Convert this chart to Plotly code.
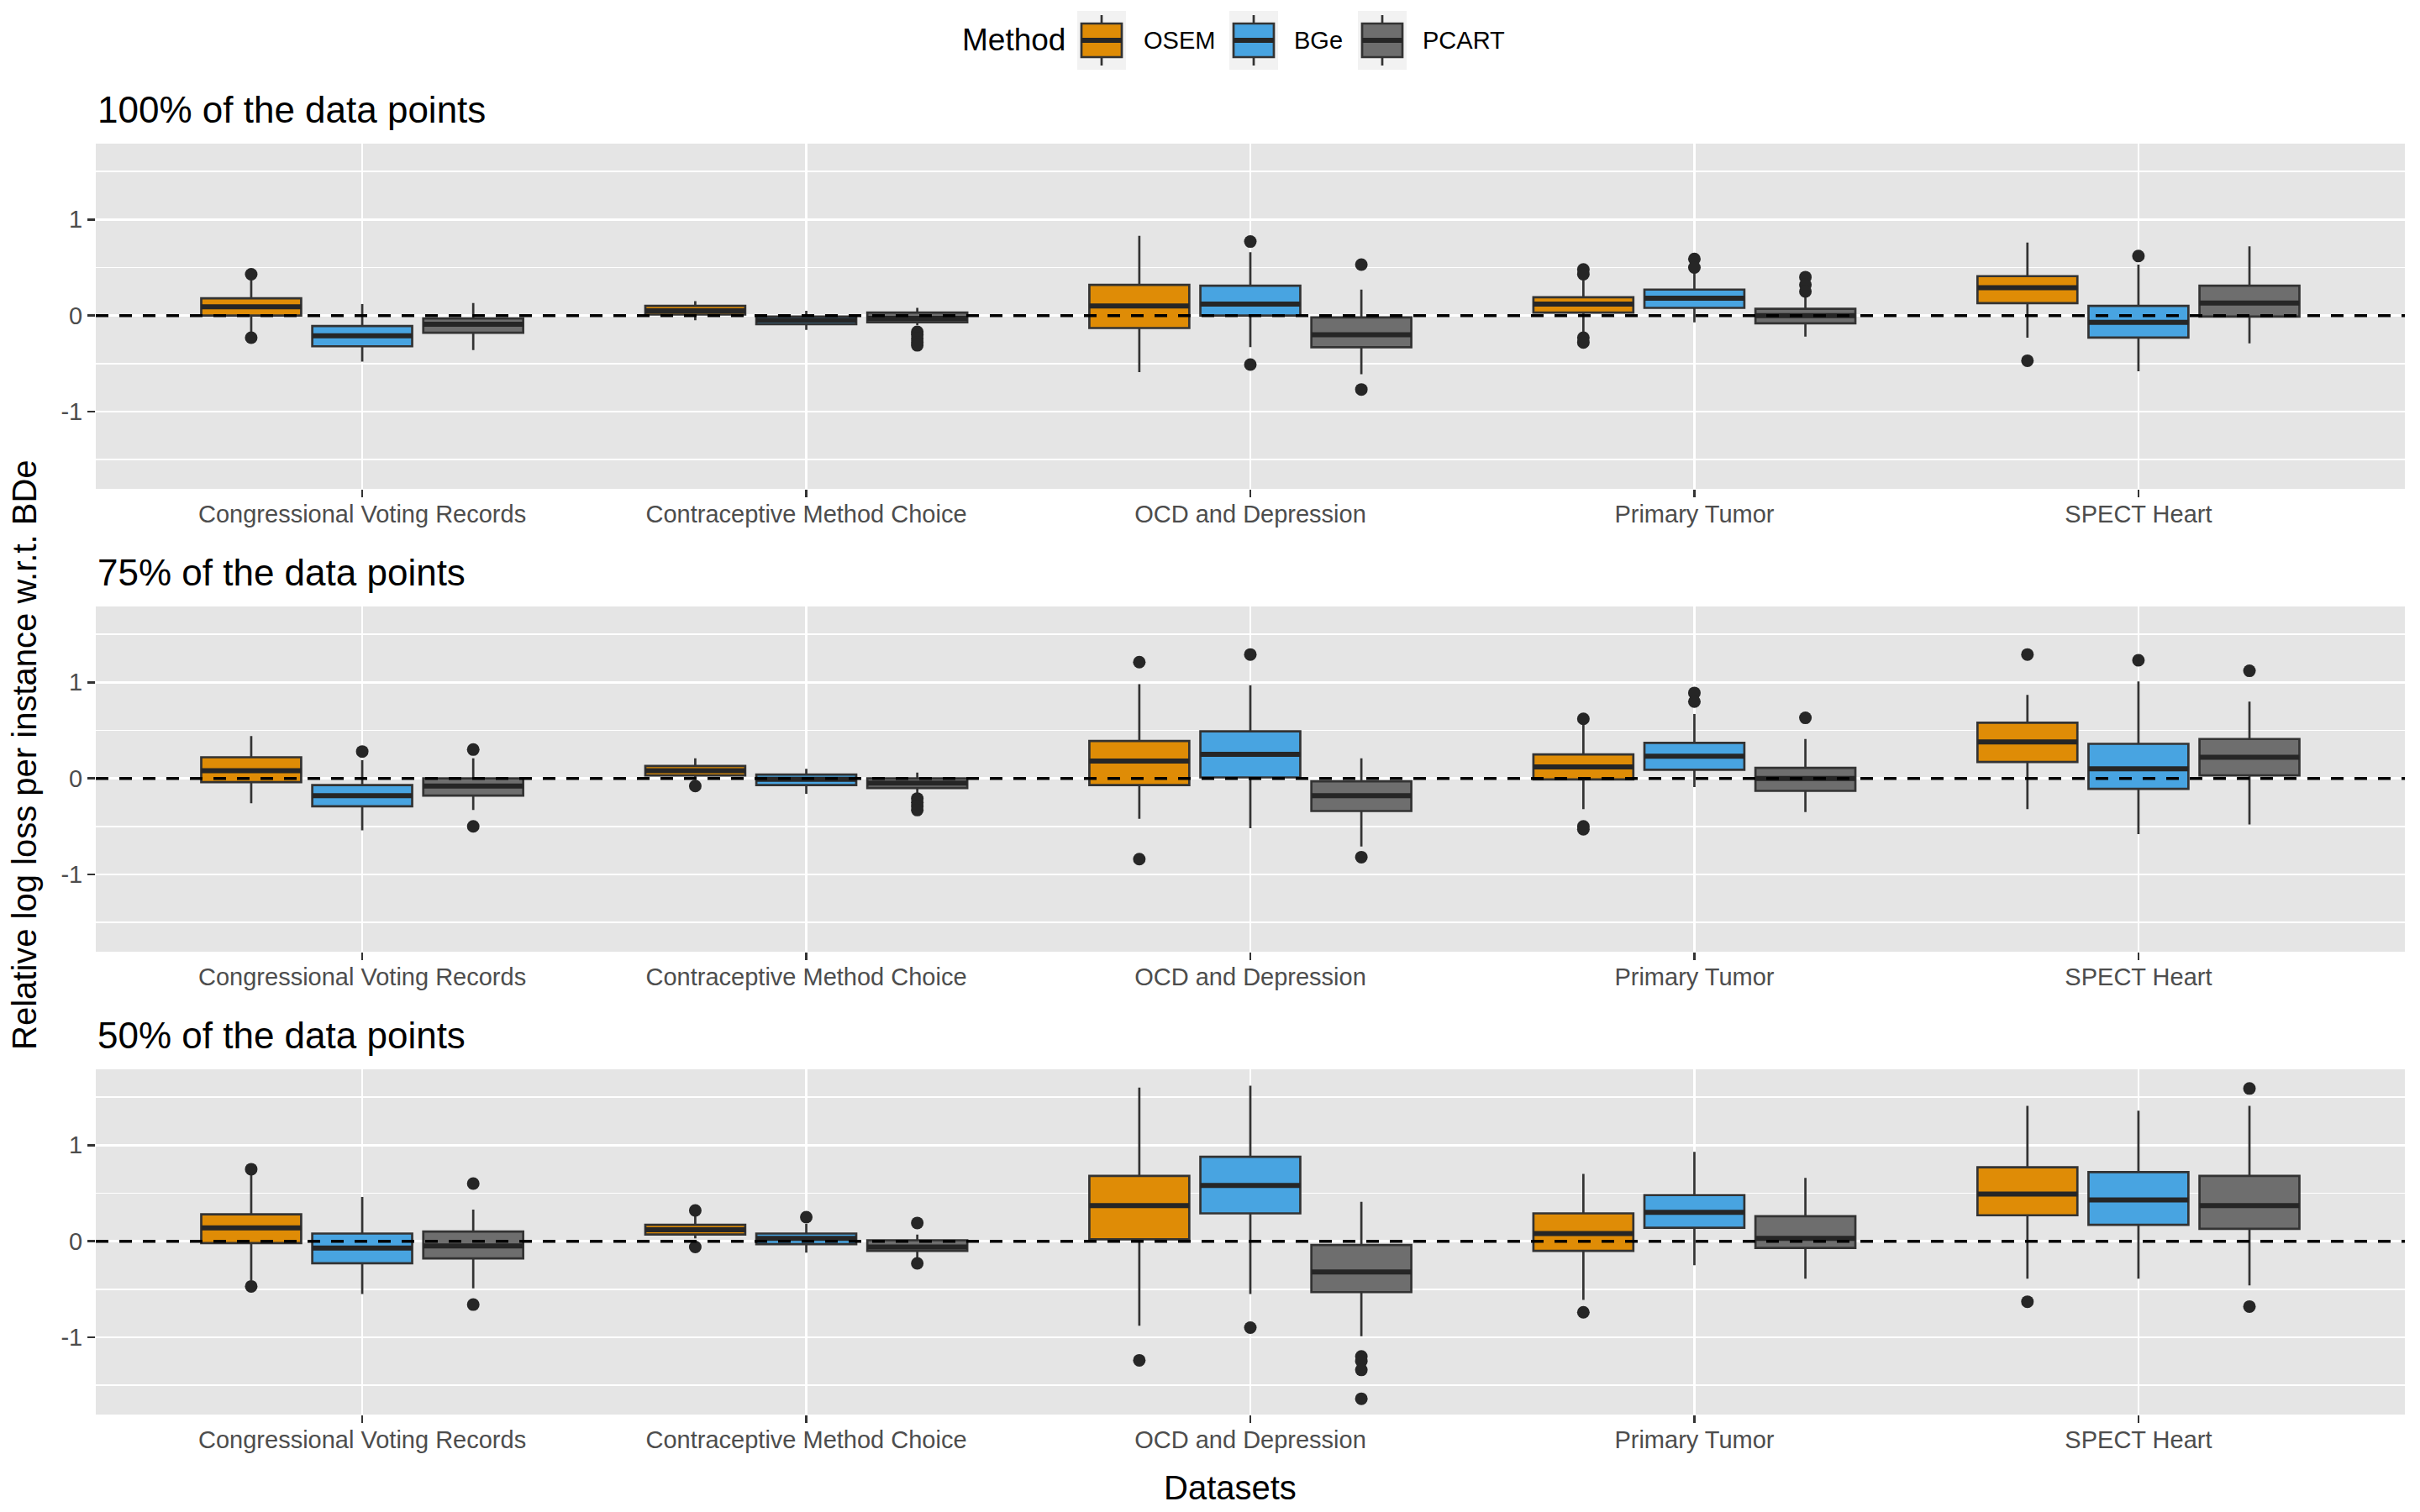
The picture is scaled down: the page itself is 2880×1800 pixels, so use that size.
import plotly.graph_objects as go

# ---------------- data ----------------
datasets = ["Congressional Voting Records", "Contraceptive Method Choice",
            "OCD and Depression", "Primary Tumor", "SPECT Heart"]
methods = ["OSEM", "BGe", "PCART"]
panel_titles = ["100% of the data points", "75% of the data points", "50% of the data points"]
colors = {"OSEM": "#DF8C06", "BGe": "#48A4E1", "PCART": "#6E6E6E"}

# ---- 100% of the data points ----
q1_100 = {"OSEM": [0.00, 0.01, -0.13, 0.03, 0.13],
          "BGe": [-0.32, -0.09, 0.00, 0.08, -0.23],
          "PCART": [-0.18, -0.07, -0.33, -0.08, -0.01]}
med_100 = {"OSEM": [0.09, 0.05, 0.10, 0.12, 0.29],
           "BGe": [-0.21, -0.05, 0.12, 0.18, -0.07],
           "PCART": [-0.09, -0.03, -0.20, 0.00, 0.13]}
q3_100 = {"OSEM": [0.18, 0.10, 0.32, 0.19, 0.41],
          "BGe": [-0.11, -0.01, 0.31, 0.27, 0.10],
          "PCART": [-0.03, 0.03, -0.02, 0.07, 0.31]}
lo_100 = {"OSEM": [-0.17, -0.05, -0.59, -0.17, -0.23],
          "BGe": [-0.48, -0.15, -0.33, -0.07, -0.58],
          "PCART": [-0.36, -0.10, -0.61, -0.22, -0.29]}
hi_100 = {"OSEM": [0.37, 0.15, 0.83, 0.37, 0.76],
          "BGe": [0.12, 0.05, 0.66, 0.45, 0.53],
          "PCART": [0.13, 0.08, 0.27, 0.20, 0.72]}
out_100 = {"OSEM": [[0.43, -0.23], [], [], [0.48, 0.43, -0.23, -0.28], [-0.47]],
           "BGe": [[], [], [0.77, -0.51], [0.59, 0.50], [0.62]],
           "PCART": [[], [-0.17, -0.20, -0.24, -0.28, -0.31], [0.53, -0.77], [0.40, 0.32, 0.25], []]}

# ---- 75% of the data points ----
q1_75 = {"OSEM": [-0.04, 0.03, -0.07, -0.01, 0.17],
         "BGe": [-0.29, -0.07, 0.01, 0.09, -0.11],
         "PCART": [-0.18, -0.10, -0.34, -0.13, 0.03]}
med_75 = {"OSEM": [0.08, 0.08, 0.18, 0.12, 0.38],
          "BGe": [-0.18, -0.01, 0.25, 0.23, 0.10],
          "PCART": [-0.08, -0.05, -0.18, 0.00, 0.22]}
q3_75 = {"OSEM": [0.22, 0.13, 0.39, 0.25, 0.58],
         "BGe": [-0.07, 0.04, 0.49, 0.37, 0.36],
         "PCART": [0.00, 0.00, -0.03, 0.11, 0.41]}
lo_75 = {"OSEM": [-0.26, 0.00, -0.42, -0.32, -0.32],
         "BGe": [-0.54, -0.16, -0.52, -0.09, -0.58],
         "PCART": [-0.33, -0.16, -0.71, -0.35, -0.48]}
hi_75 = {"OSEM": [0.44, 0.21, 0.98, 0.56, 0.87],
         "BGe": [0.19, 0.10, 0.97, 0.67, 1.01],
         "PCART": [0.21, 0.06, 0.21, 0.41, 0.80]}
out_75 = {"OSEM": [[], [-0.08], [1.21, -0.84], [0.62, -0.50, -0.53], [1.29]],
          "BGe": [[0.28], [], [1.29], [0.89, 0.80], [1.23]],
          "PCART": [[0.30, -0.50], [-0.21, -0.25, -0.29, -0.33], [-0.82], [0.63], [1.12]]}

# ---- 50% of the data points ----
q1_50 = {"OSEM": [-0.02, 0.07, 0.02, -0.10, 0.27],
         "BGe": [-0.23, -0.03, 0.29, 0.14, 0.17],
         "PCART": [-0.18, -0.10, -0.53, -0.07, 0.13]}
med_50 = {"OSEM": [0.14, 0.12, 0.37, 0.08, 0.49],
          "BGe": [-0.07, 0.03, 0.58, 0.30, 0.43],
          "PCART": [-0.05, -0.06, -0.32, 0.03, 0.37]}
q3_50 = {"OSEM": [0.28, 0.17, 0.68, 0.29, 0.77],
         "BGe": [0.08, 0.08, 0.88, 0.48, 0.72],
         "PCART": [0.10, 0.01, -0.04, 0.26, 0.68]}
lo_50 = {"OSEM": [-0.41, 0.03, -0.88, -0.61, -0.39],
         "BGe": [-0.55, -0.12, -0.55, -0.25, -0.39],
         "PCART": [-0.49, -0.17, -0.99, -0.39, -0.46]}
hi_50 = {"OSEM": [0.70, 0.26, 1.60, 0.70, 1.41],
         "BGe": [0.46, 0.18, 1.62, 0.93, 1.36],
         "PCART": [0.33, 0.07, 0.41, 0.66, 1.41]}
out_50 = {"OSEM": [[0.75, -0.47], [0.32, -0.06], [-1.24], [-0.74], [-0.63]],
          "BGe": [[], [0.25], [-0.90], [], []],
          "PCART": [[0.60, -0.66], [0.19, -0.23], [-1.20, -1.25, -1.34, -1.64], [], [1.59, -0.68]]}

panels = [
    (q1_100, med_100, q3_100, lo_100, hi_100, out_100),
    (q1_75, med_75, q3_75, lo_75, hi_75, out_75),
    (q1_50, med_50, q3_50, lo_50, hi_50, out_50),
]

# ---------------- figure geometry ----------------
W, H = 2880, 1800
ML, MT = 114, 171
MR = W - 2862
MB = H - 1684
plot_h = H - MT - MB
plot_w = W - ML - MR

def py(pix_y):  # pixel y (from top) -> paper y
    return (H - MB - pix_y) / plot_h

def px(pix_x):
    return (pix_x - ML) / plot_w

domains = [[py(582), 1.0], [py(1133), py(722)], [0.0, py(1273)]]

FONT = "Liberation Sans, Arial, Helvetica, sans-serif"
INK = "#333333"
fig = go.Figure()

for pi, (q1, med, q3, lo, hi, outs) in enumerate(panels):
    xa = "x" if pi == 0 else f"x{pi+1}"
    ya = "y" if pi == 0 else f"y{pi+1}"
    for m in methods:
        fig.add_trace(go.Box(
            x=datasets, q1=q1[m], median=med[m], q3=q3[m],
            lowerfence=lo[m], upperfence=hi[m],
            name=m, legendgroup=m, showlegend=False,
            offsetgroup=m, fillcolor=colors[m],
            line=dict(color=INK, width=2.7),
            whiskerwidth=0, boxpoints=False,
            xaxis=xa, yaxis=ya, hoverinfo="skip",
        ))
    for m in methods:
        # thicker median bar (ggplot fatten = 2)
        fig.add_trace(go.Box(
            x=datasets, q1=med[m], median=med[m], q3=med[m],
            lowerfence=med[m], upperfence=med[m],
            name=m, legendgroup=m, showlegend=False,
            offsetgroup=m, fillcolor="rgba(0,0,0,0)",
            line=dict(color="#262626", width=6),
            whiskerwidth=0, boxpoints=False,
            xaxis=xa, yaxis=ya, hoverinfo="skip",
        ))
    for m in methods:
        xs, ys = [], []
        for d, vals in zip(datasets, outs[m]):
            for v in vals:
                xs.append(d)
                ys.append(v)
        fig.add_trace(go.Scatter(
            x=xs, y=ys, mode="markers", offsetgroup=m,
            marker=dict(color="#262626", size=15),
            showlegend=False, xaxis=xa, yaxis=ya, hoverinfo="skip",
        ))
    # dashed zero reference line
    fig.add_shape(type="line", xref=f"{xa} domain", yref=ya,
                  x0=0, x1=1, y0=0, y1=0, layer="above",
                  line=dict(color="black", width=3.5, dash="15px,13px"))

axis_common_x = dict(
    type="category", categoryorder="array", categoryarray=datasets,
    range=[-0.6, 4.6], showgrid=True, gridcolor="white", gridwidth=2.7,
    ticks="outside", ticklen=9, tickwidth=2.7, tickcolor=INK,
    tickfont=dict(size=29, color="#4D4D4D", family=FONT),
    ticklabelstandoff=-5,
    showline=False, zeroline=False, fixedrange=True,
)
axis_common_y = dict(
    range=[-1.805, 1.79], tickvals=[-1, 0, 1], ticktext=["-1", "0", "1"],
    showgrid=True, gridcolor="white", gridwidth=2.7,
    ticks="outside", ticklen=9, tickwidth=2.7, tickcolor=INK,
    tickfont=dict(size=29, color="#4D4D4D", family=FONT),
    minor=dict(tickvals=[-1.5, -0.5, 0.5, 1.5], showgrid=True,
               gridcolor="white", gridwidth=1.4, ticklen=0),
    showline=False, zeroline=False, fixedrange=True,
)

layout_axes = {}
for pi in range(3):
    xk = "xaxis" if pi == 0 else f"xaxis{pi+1}"
    yk = "yaxis" if pi == 0 else f"yaxis{pi+1}"
    ya = "y" if pi == 0 else f"y{pi+1}"
    xa = "x" if pi == 0 else f"x{pi+1}"
    layout_axes[xk] = dict(axis_common_x, domain=[0, 1], anchor=ya)
    layout_axes[yk] = dict(axis_common_y, domain=domains[pi], anchor=xa)

annotations = []
title_y = [py(130), py(681), py(1232)]
for pi, t in enumerate(panel_titles):
    annotations.append(dict(text=t, xref="paper", yref="paper", x=px(114), y=title_y[pi],
                            xanchor="left", yanchor="middle", showarrow=False,
                            font=dict(size=44, color="black", family=FONT)))
annotations.append(dict(text="Datasets", xref="paper", yref="paper", x=px(1464), y=py(1771),
                        xanchor="center", yanchor="middle", showarrow=False,
                        font=dict(size=40, color="black", family=FONT)))
annotations.append(dict(text="Relative log loss per instance w.r.t. BDe", xref="paper",
                        yref="paper", x=px(29), y=py(899), textangle=-90,
                        xanchor="center", yanchor="middle", showarrow=False,
                        font=dict(size=40, color="black", family=FONT)))

# ---- legend (drawn as ggplot-style keys) ----
LEG_Y = 48
annotations.append(dict(text="Method", xref="paper", yref="paper", x=px(1143), y=py(LEG_Y),
                        xanchor="left", yanchor="middle", showarrow=False,
                        font=dict(size=37, color="black", family=FONT)))
key_x0 = {"OSEM": 1282, "BGe": 1463, "PCART": 1616}
label_x0 = {"OSEM": 1359, "BGe": 1538, "PCART": 1691}
shapes = []
for m in methods:
    kx0 = key_x0[m]
    kx1 = kx0 + 58
    cx = (kx0 + kx1) / 2
    shapes.append(dict(type="rect", xref="paper", yref="paper",
                       x0=px(kx0), x1=px(kx1), y0=py(LEG_Y + 35), y1=py(LEG_Y - 35),
                       fillcolor="#F2F2F2", line=dict(width=0), layer="above"))
    shapes.append(dict(type="line", xref="paper", yref="paper",
                       x0=px(cx), x1=px(cx), y0=py(LEG_Y + 30), y1=py(LEG_Y - 30),
                       line=dict(color=INK, width=2.7), layer="above"))
    shapes.append(dict(type="rect", xref="paper", yref="paper",
                       x0=px(kx0 + 5), x1=px(kx1 - 5), y0=py(LEG_Y + 20), y1=py(LEG_Y - 20),
                       fillcolor=colors[m], line=dict(color=INK, width=2.7), layer="above"))
    shapes.append(dict(type="line", xref="paper", yref="paper",
                       x0=px(kx0 + 5), x1=px(kx1 - 5), y0=py(LEG_Y), y1=py(LEG_Y),
                       line=dict(color="#262626", width=6), layer="above"))
    annotations.append(dict(text=m, xref="paper", yref="paper", x=px(label_x0[m]), y=py(LEG_Y),
                            xanchor="left", yanchor="middle", showarrow=False,
                            font=dict(size=29, color="black", family=FONT)))

fig.update_layout(
    width=W, height=H,
    margin=dict(l=ML, r=MR, t=MT, b=MB),
    paper_bgcolor="white", plot_bgcolor="#E5E5E5",
    font=dict(family=FONT, color="black"),
    boxmode="group", boxgap=0.25, boxgroupgap=0.1,
    scattermode="group", scattergap=0.25,
    showlegend=False,
    annotations=annotations,
    **layout_axes,
)
for s in shapes:
    fig.add_shape(**s)

# remove the default 8px page margin so the figure fills the window exactly
fig.write_html("out.html",
               config={"displayModeBar": False, "staticPlot": True},
               post_script="document.body.style.margin='0';document.body.style.overflow='hidden';")
